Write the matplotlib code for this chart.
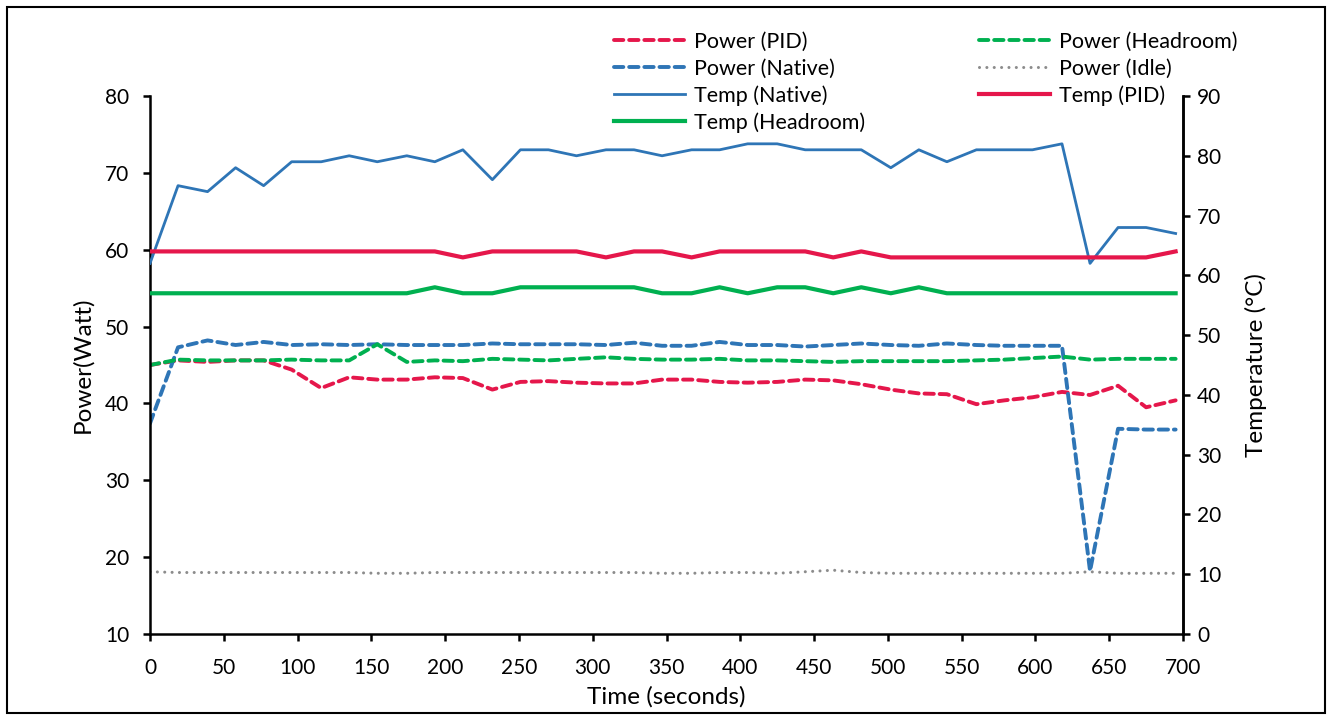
import numpy as np
import matplotlib.pyplot as plt
from matplotlib.patches import Rectangle

plt.rcParams['font.family'] = ['Lato', 'DejaVu Sans']

# sample times (s)
time_s = [0, 19, 39, 58, 77, 96, 116, 135, 154, 174, 193, 212, 232, 251, 270, 289, 309, 328, 347,
          367, 386, 405, 425, 444, 463, 482, 502, 521, 540, 560, 579, 598, 618, 637, 656, 675, 695]

# power (W)
power_pid = [45.0, 45.6, 45.4, 45.6, 45.6, 44.4, 42.0, 43.4, 43.1, 43.1, 43.4, 43.3, 41.8,
             42.8, 42.9, 42.7, 42.6, 42.6, 43.1, 43.1, 42.8, 42.7, 42.8, 43.1, 43.0, 42.5,
             41.8, 41.3, 41.2, 39.9, 40.4, 40.8, 41.5, 41.1, 42.3, 39.5, 40.4]
power_native = [37.4, 47.3, 48.2, 47.6, 48.0, 47.6, 47.7, 47.6, 47.7, 47.6, 47.6, 47.6, 47.8,
                47.7, 47.7, 47.7, 47.6, 47.9, 47.5, 47.5, 48.0, 47.6, 47.6, 47.4, 47.6, 47.8,
                47.6, 47.5, 47.8, 47.6, 47.5, 47.5, 47.5, 18.2, 36.7, 36.6, 36.6]
power_headroom = [45.0, 45.7, 45.6, 45.6, 45.6, 45.7, 45.6, 45.6, 47.7, 45.4, 45.6, 45.5, 45.8,
                  45.7, 45.6, 45.8, 46.0, 45.8, 45.7, 45.7, 45.8, 45.6, 45.6, 45.5, 45.4, 45.5,
                  45.5, 45.5, 45.5, 45.6, 45.7, 45.9, 46.1, 45.7, 45.8, 45.8, 45.8]
power_idle = [18.1, 18.0, 18.0, 18.0, 18.0, 18.0, 18.0, 18.0, 17.9, 17.9, 18.0, 18.0, 18.0,
              18.0, 18.0, 18.0, 18.0, 18.0, 17.9, 17.9, 18.0, 18.0, 17.9, 18.1, 18.3, 18.0,
              17.9, 17.9, 17.9, 17.9, 17.9, 17.9, 17.9, 18.1, 17.9, 17.9, 17.9]

# temperature (°C)
temp_native = [62, 75, 74, 78, 75, 79, 79, 80, 79, 80, 79, 81, 76, 81, 81, 80, 81, 81, 80,
               81, 81, 82, 82, 81, 81, 81, 78, 81, 79, 81, 81, 81, 82, 62, 68, 68, 67]
temp_pid = [64, 64, 64, 64, 64, 64, 64, 64, 64, 64, 64, 63, 64, 64, 64, 64, 63, 64, 64,
            63, 64, 64, 64, 64, 63, 64, 63, 63, 63, 63, 63, 63, 63, 63, 63, 63, 64]
temp_headroom = [57, 57, 57, 57, 57, 57, 57, 57, 57, 57, 58, 57, 57, 58, 58, 58, 58, 58, 57,
                 57, 58, 57, 58, 58, 57, 58, 57, 58, 57, 57, 57, 57, 57, 57, 57, 57, 57]

RED = '#E5174B'
BLUE = '#2E75B6'
GREEN = '#00B050'
GREY = '#8C8C8C'

fig = plt.figure(figsize=(13.33, 7.15), dpi=100)
ax = fig.add_axes([150/1333, 1-634/715, 1033/1333, 538/715])
ax2 = ax.twinx()

dash = dict(lw=2.8, dashes=(2.4, 1.5), dash_capstyle='round')
l1, = ax.plot(time_s, power_pid, color=RED, label='Power (PID)', **dash)
l2, = ax.plot(time_s, power_native, color=BLUE, label='Power (Native)', **dash)
l3, = ax.plot(time_s, power_headroom, color=GREEN, label='Power (Headroom)', **dash)
l4, = ax.plot(time_s, power_idle, color=GREY, label='Power (Idle)', lw=2.2,
              dashes=(0.01, 2.4), dash_capstyle='round')

l5, = ax2.plot(time_s, temp_native, color=BLUE, lw=2.0, label='Temp (Native)')
l6, = ax2.plot(time_s, temp_pid, color=RED, lw=3.0, label='Temp (PID)')
l7, = ax2.plot(time_s, temp_headroom, color=GREEN, lw=3.0, label='Temp (Headroom)')

ax.set_xlim(0, 700)
ax.set_ylim(10, 80)
ax2.set_ylim(0, 90)
ax.set_xticks(np.arange(0, 701, 50))
ax.set_yticks(np.arange(10, 81, 10))
ax2.set_yticks(np.arange(0, 91, 10))

for a in (ax, ax2):
    a.spines['top'].set_visible(False)
    for s in a.spines.values():
        s.set_linewidth(1.8)
    a.tick_params(axis='both', direction='out', length=5, width=1.8, labelsize=15)
ax.tick_params(axis='y', pad=10)
ax.tick_params(axis='x', pad=12)
ax2.tick_params(axis='y', pad=5)
ax2.spines['left'].set_visible(False)
ax2.spines['bottom'].set_visible(False)

ax.set_xlabel('Time (seconds)', fontsize=17.5, labelpad=6)
ax.set_ylabel('Power(Watt)', fontsize=17.5, labelpad=8)
ax2.set_ylabel('Temperature (°C)', fontsize=17.5, labelpad=17)

handles = [l1, l2, l5, l7, l3, l4, l6]
fig.legend(handles=handles, labels=[h.get_label() for h in handles], ncol=2,
           loc='upper left', bbox_to_anchor=(614/1333, 1-32/715), frameon=False,
           fontsize=15.5, handlelength=3.3, handletextpad=0.4, columnspacing=5.3,
           labelspacing=0.3, borderpad=0, borderaxespad=0)

# outer chart border
fig.patches.append(Rectangle((7/1333, 2/715), 1318/1333, 706/715, transform=fig.transFigure,
                             fill=False, edgecolor='black', lw=1.5))

fig.savefig('out.png', dpi=100)
